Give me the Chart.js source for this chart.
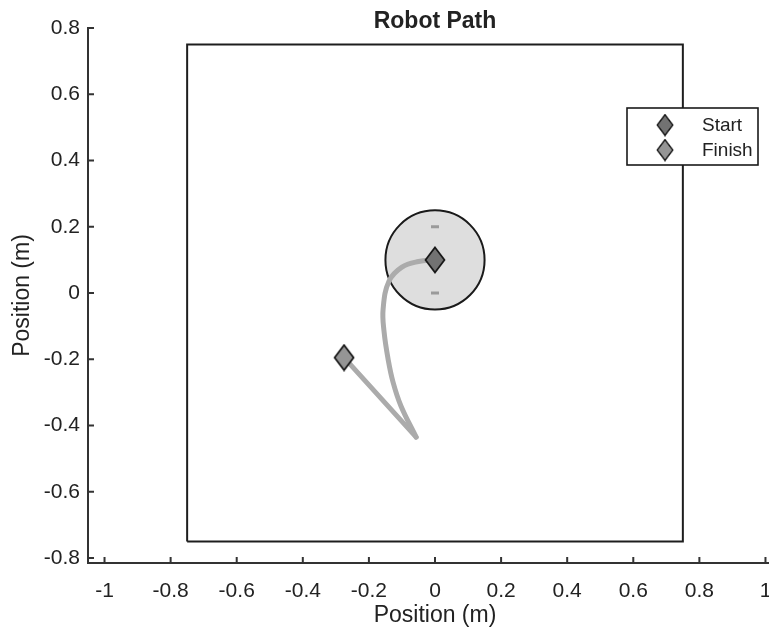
<!DOCTYPE html>
<html>
<head>
<meta charset="utf-8">
<script src="https://cdn.jsdelivr.net/npm/chart.js@4.4.1/dist/chart.umd.min.js"></script>
<style>
  html, body { margin: 0; padding: 0; background: #fff; overflow: hidden; }
  #wrap { width: 769px; height: 630px; overflow: hidden; }
  #wrap canvas { display: block; }
</style>
</head>
<body>
<div id="wrap"><canvas id="robotChart" width="795" height="630"></canvas></div>
<script>
// path of the robot (m), from start pose down to the turning point
const pathX = [0, -0.05, -0.1, -0.139, -0.157, -0.154, -0.142, -0.127, -0.103, -0.057];
const pathY = [0.1, 0.095, 0.078, 0.036, -0.048, -0.118, -0.199, -0.269, -0.341, -0.435];
// straight leg from turning point to finish
const legX = [-0.057, -0.275];
const legY = [-0.435, -0.195];

const startPos = [0, 0.1];
const finishPos = [-0.275, -0.195];

const boundaryX = [-0.75, 0.75, 0.75, -0.75, -0.75];
const boundaryY = [-0.75, -0.75, 0.75, 0.75, -0.75];

const robotCenter = [0, 0.1];
const robotRadius = 0.15;
const wheelX = [0, 0];
const wheelY = [0.2, 0.0];

const xTicks = [-1, -0.8, -0.6, -0.4, -0.2, 0, 0.2, 0.4, 0.6, 0.8, 1];
const xTickLabels = ['-1', '-0.8', '-0.6', '-0.4', '-0.2', '0', '0.2', '0.4', '0.6', '0.8', '1'];
const yTicks = [-0.8, -0.6, -0.4, -0.2, 0, 0.2, 0.4, 0.6, 0.8];
const yTickLabels = ['-0.8', '-0.6', '-0.4', '-0.2', '0', '0.2', '0.4', '0.6', '0.8'];

const FONT = '"Liberation Sans", Arial, sans-serif';
const INK = '#222';

function zip(xs, ys) {
  return xs.map((x, i) => ({ x: x, y: ys[i] }));
}

// tall diamond marker, like matlab 'd'
function makeDiamond(fill, w, h) {
  const c = document.createElement('canvas');
  c.width = w; c.height = h;
  const g = c.getContext('2d');
  g.beginPath();
  g.moveTo(w / 2, 1.5);
  g.lineTo(w - 1.5, h / 2);
  g.lineTo(w / 2, h - 1.5);
  g.lineTo(1.5, h / 2);
  g.closePath();
  g.fillStyle = fill;
  g.fill();
  g.lineWidth = 1.7;
  g.strokeStyle = '#151515';
  g.stroke();
  return c;
}

const startColor = '#727272';
const finishColor = '#959595';
const startMarker = makeDiamond(startColor, 22, 28);
const finishMarker = makeDiamond(finishColor, 22, 28);

// robot body drawn under the datasets
const robotBody = {
  id: 'robotBody',
  beforeDatasetsDraw(chart) {
    const { ctx, scales: { x, y } } = chart;
    const cx = x.getPixelForValue(robotCenter[0]);
    const cy = y.getPixelForValue(robotCenter[1]);
    const r = Math.abs(x.getPixelForValue(robotCenter[0] + robotRadius) - cx);
    ctx.save();
    ctx.beginPath();
    ctx.arc(cx, cy, r, 0, Math.PI * 2);
    ctx.fillStyle = '#dedede';
    ctx.fill();
    ctx.lineWidth = 2;
    ctx.strokeStyle = '#1a1a1a';
    ctx.stroke();
    ctx.restore();
  }
};

// matlab style: ticks inside, title, boxed legend
const matlabBits = {
  id: 'matlabBits',
  afterDraw(chart) {
    const { ctx, chartArea, scales: { x, y } } = chart;
    ctx.save();
    ctx.strokeStyle = '#333';
    ctx.lineWidth = 2;
    ctx.beginPath();
    x.ticks.forEach(t => {
      const px = x.getPixelForValue(t.value);
      ctx.moveTo(px, chartArea.bottom);
      ctx.lineTo(px, chartArea.bottom - 6);
    });
    y.ticks.forEach(t => {
      const py = y.getPixelForValue(t.value);
      ctx.moveTo(chartArea.left, py);
      ctx.lineTo(chartArea.left + 6, py);
    });
    ctx.stroke();

    // title
    ctx.fillStyle = INK;
    ctx.font = 'bold 23px ' + FONT;
    ctx.textAlign = 'center';
    ctx.textBaseline = 'middle';
    ctx.fillText('Robot Path', (chartArea.left + chartArea.right) / 2, 22);

    // legend
    const lx = 627, ly = 108, lw = 131, lh = 57;
    ctx.fillStyle = '#fff';
    ctx.fillRect(lx, ly, lw, lh);
    ctx.lineWidth = 1.6;
    ctx.strokeStyle = '#1a1a1a';
    ctx.strokeRect(lx, ly, lw, lh);
    const items = chart.data.datasets.filter(d => d.inLegend);
    ctx.font = '19px ' + FONT;
    ctx.textAlign = 'left';
    items.forEach((d, i) => {
      const iy = ly + 17 + i * 25;
      ctx.drawImage(d.pointStyle, 665 - 9, iy - 11.5, 18, 23);
      ctx.fillStyle = INK;
      ctx.fillText(d.label, 702, iy + 1);
    });
    ctx.restore();
  }
};

const pathStyle = {
  type: 'line',
  borderColor: '#ababab',
  borderWidth: 5,
  borderCapStyle: 'round',
  borderJoinStyle: 'round',
  pointRadius: 0,
  fill: false
};

new Chart(document.getElementById('robotChart'), {
  type: 'scatter',
  data: {
    datasets: [
      { label: 'Start', inLegend: true, data: [{ x: startPos[0], y: startPos[1] }], pointStyle: startMarker, pointRadius: 12 },
      { label: 'Finish', inLegend: true, data: [{ x: finishPos[0], y: finishPos[1] }], pointStyle: finishMarker, pointRadius: 12 },
      Object.assign({ label: 'path', data: zip(pathX, pathY), tension: 0.4 }, pathStyle),
      Object.assign({ label: 'leg', data: zip(legX, legY), tension: 0 }, pathStyle),
      { label: 'wheels', data: zip(wheelX, wheelY), pointStyle: 'line', pointRadius: 4,
        borderColor: '#9a9a9a', borderWidth: 3, backgroundColor: '#9a9a9a' },
      { label: 'boundary', type: 'line', data: zip(boundaryX, boundaryY), borderColor: '#1e1e1e',
        borderWidth: 2, pointRadius: 0, tension: 0, fill: false }
    ]
  },
  options: {
    responsive: false,
    animation: false,
    layout: { padding: { top: 28, right: 8, left: 0, bottom: 0 } },
    plugins: {
      legend: { display: false },
      tooltip: { enabled: false }
    },
    scales: {
      x: {
        type: 'linear',
        min: -1.05,
        max: 1.05,
        afterBuildTicks: s => { s.ticks = xTicks.map(v => ({ value: v })); },
        afterFit: s => { s.height = 67; },
        grid: { display: false, drawTicks: false },
        border: { color: '#333', width: 2 },
        ticks: {
          font: { size: 21, family: FONT },
          color: INK,
          padding: 16,
          maxRotation: 0,
          autoSkip: false,
          callback: (v, i) => xTickLabels[i]
        },
        title: {
          display: true,
          text: 'Position (m)',
          font: { size: 23, family: FONT },
          color: INK,
          padding: { top: 0, bottom: 1 }
        }
      },
      y: {
        type: 'linear',
        min: -0.815,
        max: 0.8,
        afterBuildTicks: s => { s.ticks = yTicks.map(v => ({ value: v })); },
        afterFit: s => { s.width = 88; },
        grid: { display: false, drawTicks: false },
        border: { color: '#333', width: 2 },
        ticks: {
          font: { size: 21, family: FONT },
          color: INK,
          padding: 8,
          autoSkip: false,
          callback: (v, i) => yTickLabels[i]
        },
        title: {
          display: true,
          text: 'Position (m)',
          font: { size: 23, family: FONT },
          color: INK,
          padding: { top: 9, bottom: 0 }
        }
      }
    }
  },
  plugins: [robotBody, matlabBits]
});
</script>
</body>
</html>
